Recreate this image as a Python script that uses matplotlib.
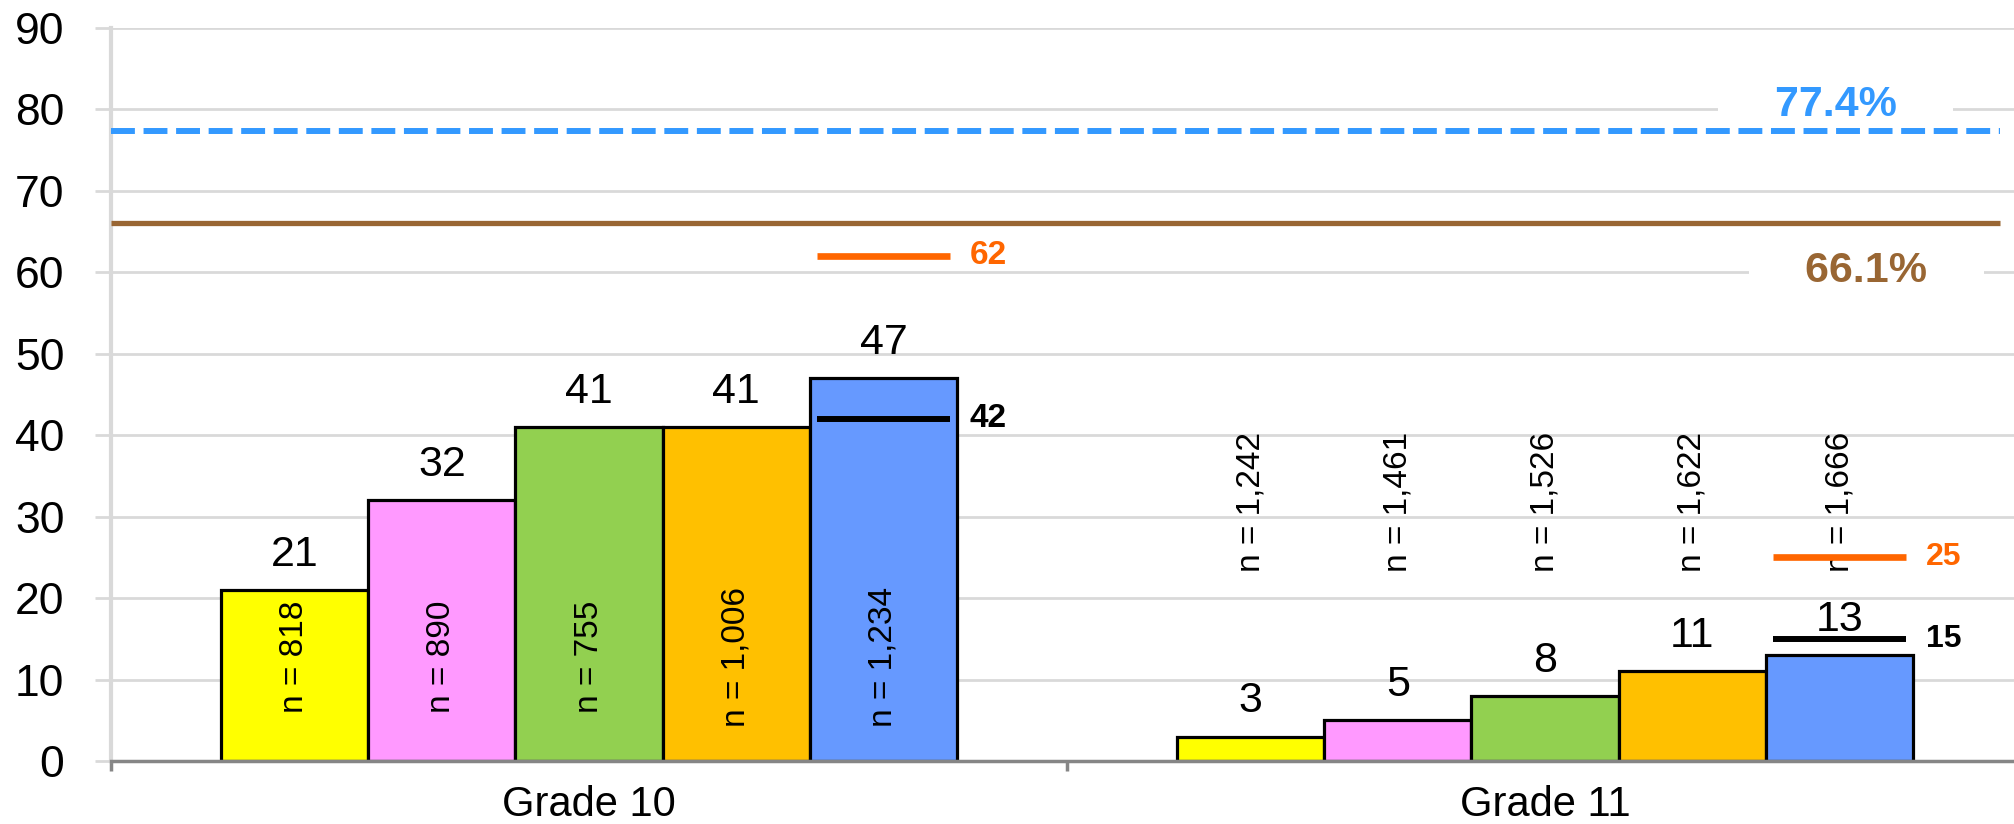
import numpy as np
import matplotlib
import matplotlib.pyplot as plt

matplotlib.use('Agg')

# data
grades = ['Grade 10', 'Grade 11']
bar_colors = ['#ffff00', '#ff99ff', '#92d050', '#ffc000', '#6699ff']
grade10_pct = [21, 32, 41, 41, 47]
grade11_pct = [3, 5, 8, 11, 13]
grade10_n = ['818', '890', '755', '1,006', '1,234']
grade11_n = ['1,242', '1,461', '1,526', '1,622', '1,666']
orange_marks = [62, 25]   # orange marker over the last bar of each grade
black_marks = [42, 15]    # black marker over the last bar of each grade
blue_ref = 77.4
brown_ref = 66.1

plt.rcParams['font.family'] = ['Liberation Sans', 'DejaVu Sans']

fig = plt.figure(figsize=(20.15, 8.24), dpi=100)
ax = fig.add_axes([0.0551, 0.0765, 0.9489, 0.8896])

x = np.arange(len(grades))
w = 0.154
values = np.array([grade10_pct, grade11_pct])
n_labels = [grade10_n, grade11_n]
n_label_y = [12.8, 31.8]

for i in range(len(bar_colors)):
    xs = x + (i - 2) * w
    bars = ax.bar(xs, values[:, i], width=w, color=bar_colors[i],
                  edgecolor='black', linewidth=2.3, zorder=2)
    for j, b in enumerate(bars):
        h = b.get_height()
        ax.annotate(f'{h:g}', (xs[j], h), xytext=(0, 11),
                    textcoords='offset points', ha='center', va='bottom',
                    fontsize=31, zorder=3)
        ax.text(xs[j], n_label_y[j], f'n = {n_labels[j][i]}', rotation=90,
                ha='center', va='center', fontsize=24, zorder=3)

# markers over the last bar
last_x = x + 2 * w
for j in range(len(grades)):
    ax.hlines(orange_marks[j], last_x[j] - 0.45 * w, last_x[j] + 0.45 * w,
              color='#ff6600', lw=4.8, zorder=5)
    ax.hlines(black_marks[j], last_x[j] - 0.45 * w, last_x[j] + 0.45 * w,
              color='black', lw=4.3, zorder=5)
    fs = 24 if j == 0 else 23
    ax.text(last_x[j] + w / 2 + 0.013, orange_marks[j], str(orange_marks[j]),
            color='#ff6600', fontsize=fs, fontweight='bold', va='center',
            zorder=5)
    ax.text(last_x[j] + w / 2 + 0.013, black_marks[j], str(black_marks[j]),
            color='black', fontsize=fs, fontweight='bold', va='center',
            zorder=5)

# reference lines
ax.hlines(blue_ref, -0.5, 1.476, color='#3399ff', lw=4.3,
          linestyle=(0, (4.0, 1.45)), zorder=4)
ax.hlines(brown_ref, -0.5, 1.476, color='#996633', lw=3.8, zorder=4)
ax.text(1.304, 80.5, f'    {blue_ref}%    ', color='#3399ff', fontsize=31,
        fontweight='bold', ha='center', va='center', zorder=3,
        bbox=dict(boxstyle='square,pad=0.2', fc='white', ec='none'))
ax.text(1.336, 60.2, f'    {brown_ref}%    ', color='#996633', fontsize=31,
        fontweight='bold', ha='center', va='center', zorder=3,
        bbox=dict(boxstyle='square,pad=0.2', fc='white', ec='none'))

ax.set_xlim(-0.5, 1.5)
ax.set_ylim(0, 90)
ax.set_yticks(np.arange(0, 91, 10))
ax.yaxis.grid(True, color='#d9d9d9', lw=2)
ax.set_axisbelow(True)
ax.tick_params(axis='y', length=11.5, width=2, color='#d9d9d9', pad=22,
               labelsize=32)

ax.set_xticks(x)
ax.set_xticklabels(grades, fontsize=30)
ax.set_xticks([-0.5, 0.5, 1.5], minor=True)
ax.tick_params(axis='x', which='major', length=0, pad=17)
ax.tick_params(axis='x', which='minor', length=7, width=2.5, color='#868686')

for s in ['top', 'right']:
    ax.spines[s].set_visible(False)
ax.spines['left'].set_color('#d9d9d9')
ax.spines['left'].set_linewidth(3)
ax.spines['bottom'].set_color('#868686')
ax.spines['bottom'].set_linewidth(2.5)

fig.savefig('out.png', dpi=100)
